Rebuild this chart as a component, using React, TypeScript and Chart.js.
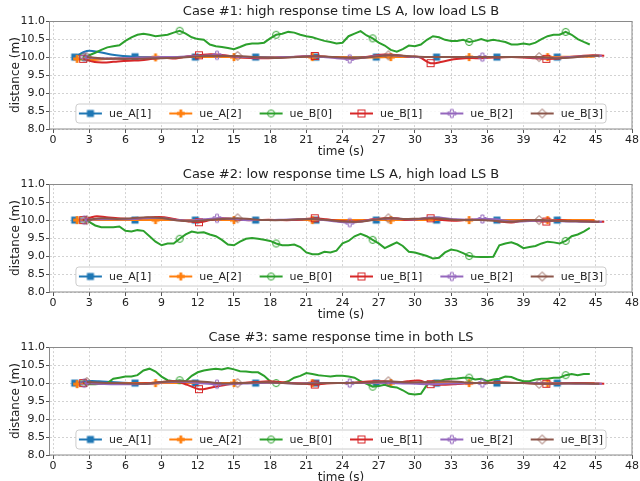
import React, { useEffect, useRef } from "react";
import { Chart, registerables } from "chart.js";

Chart.register(...registerables);

// ---------------- data ----------------
const caseTitles = [
  "Case #1: high response time LS A, low load LS B",
  "Case #2: low response time LS A, high load LS B",
  "Case #3: same response time in both LS",
];
const seriesLabels = ["ue_A[1]", "ue_A[2]", "ue_B[0]", "ue_B[1]", "ue_B[2]", "ue_B[3]"];
// sampling of each series (time of first sample, seconds between samples)
const seriesStart = [1.8, 2.0, 2.5, 2.5, 2.6, 2.8];
const seriesStep = [1, 1.3, 0.5, 0.96, 1.1, 1.25];
const markEvery = [5, 5, 16, 10, 10, 10];
const xTicks = [0, 3, 6, 9, 12, 15, 18, 21, 24, 27, 30, 33, 36, 39, 42, 45, 48];
const yTicks = [8.0, 8.5, 9.0, 9.5, 10.0, 10.5, 11.0];

// ----- Case 1 -----
const c1_ueA1 = [
  10.0, 10.17, 10.14, 10.07, 10.03, 10.01, 10.0, 10.0, 10.0, 10.0,
  10.0, 10.0, 10.0, 10.0, 10.0, 10.0, 10.0, 10.0, 10.0, 10.0,
  10.0, 10.0, 10.0, 10.0, 10.0, 10.0, 10.0, 10.0, 10.0, 10.0,
  10.0, 10.0, 10.0, 10.0, 10.0, 10.0, 10.0, 10.0, 10.0, 10.0,
  10.0,
];
const c1_ueA2 = [
  9.95, 9.92, 9.95, 9.97, 9.98, 9.99, 9.99, 10.0, 10.0, 10.0,
  10.0, 9.99, 9.99, 10.0, 10.0, 10.0, 10.0, 10.0, 9.99, 9.99,
  10.0, 10.0, 10.0, 10.0, 10.0, 10.0, 10.0, 10.0, 10.0, 10.0,
  10.0, 10.01, 10.01, 10.01,
];
const c1_ueB0 = [
  10.0, 10.05, 10.12, 10.2, 10.27, 10.3, 10.33, 10.45, 10.55, 10.62,
  10.65, 10.62, 10.58, 10.6, 10.62, 10.68, 10.73, 10.65, 10.55, 10.5,
  10.48, 10.35, 10.3, 10.28, 10.25, 10.22, 10.28, 10.35, 10.38, 10.38,
  10.4, 10.52, 10.62, 10.65, 10.7, 10.68, 10.62, 10.58, 10.55, 10.5,
  10.45, 10.42, 10.38, 10.4, 10.58, 10.65, 10.72, 10.6, 10.52, 10.4,
  10.32, 10.2, 10.15, 10.22, 10.32, 10.3, 10.35, 10.48, 10.58, 10.55,
  10.48, 10.45, 10.45, 10.48, 10.42, 10.45, 10.5, 10.45, 10.48, 10.45,
  10.42, 10.35, 10.35, 10.38, 10.35, 10.4, 10.5, 10.58, 10.62, 10.62,
  10.7, 10.62, 10.5, 10.42, 10.35,
];
const c1_ueB1 = [
  9.95, 9.86, 9.85, 9.88, 9.9, 9.91, 9.95, 9.98, 9.96, 10.02,
  10.05, 10.08, 10.06, 10.01, 9.98, 9.97, 9.97, 9.98, 10.0, 10.02,
  10.03, 10.01, 9.98, 9.96, 9.98, 10.03, 10.07, 10.06, 10.01, 10.0,
  9.83, 9.87, 9.94, 9.97, 9.97, 9.98, 9.99, 10.0, 9.99, 9.97,
  9.95, 9.96, 10.0, 10.03, 10.05, 10.04,
];
const c1_ueB2 = [
  10.0, 9.97, 9.96, 9.97, 9.98, 9.99, 10.0, 10.0, 10.02, 10.04,
  10.05, 10.02, 10.0, 9.99, 9.99, 10.0, 10.01, 10.02, 10.0, 9.97,
  9.95, 9.98, 10.03, 10.05, 10.03, 10.0, 10.0, 10.0, 10.0, 10.0,
  10.0, 10.0, 10.0, 10.0, 9.99, 9.98, 9.99, 10.01, 10.03, 10.04,
];
const c1_ueB3 = [
  10.0, 9.96, 9.95, 9.95, 9.96, 9.97, 9.98, 10.01, 10.03, 10.03,
  10.03, 10.0, 9.98, 9.98, 10.0, 10.02, 10.01, 9.99, 9.97, 10.01,
  10.05, 10.04, 10.01, 10.0, 10.0, 10.0, 10.0, 10.0, 10.0, 10.0,
  10.0, 9.97, 9.98, 10.02, 10.04,
];

// ----- Case 2 -----
const c2_ueA1 = [
  10.0, 10.0, 10.0, 10.0, 10.0, 10.0, 10.0, 10.0, 10.0, 10.0,
  10.0, 10.0, 10.0, 10.0, 10.0, 10.0, 10.0, 10.0, 10.0, 10.0,
  10.0, 10.0, 10.0, 10.0, 10.0, 10.0, 10.0, 10.0, 10.0, 10.0,
  10.0, 10.0, 10.0, 10.0, 10.0, 10.0, 10.0, 10.0, 10.0, 10.0,
  10.0,
];
const c2_ueA2 = [
  10.0, 10.0, 10.0, 10.0, 10.0, 10.0, 10.0, 10.0, 10.0, 10.0,
  10.0, 10.0, 10.0, 10.0, 10.0, 10.0, 10.0, 10.0, 10.0, 10.0,
  10.0, 10.0, 10.0, 10.0, 10.0, 10.0, 10.0, 10.0, 10.0, 10.0,
  10.0, 10.0, 10.0, 10.0,
];
const c2_ueB0 = [
  10.0, 9.95, 9.85, 9.8, 9.8, 9.8, 9.82, 9.7, 9.68, 9.72,
  9.7, 9.55, 9.4, 9.3, 9.35, 9.35, 9.48, 9.6, 9.68, 9.65,
  9.66, 9.6, 9.55, 9.45, 9.32, 9.3, 9.4, 9.48, 9.5, 9.48,
  9.45, 9.42, 9.35, 9.3, 9.3, 9.32, 9.25, 9.1, 9.05, 9.05,
  9.12, 9.1, 9.15, 9.35, 9.42, 9.55, 9.62, 9.55, 9.45, 9.35,
  9.22, 9.3, 9.38, 9.28, 9.12, 9.1, 9.05, 9.0, 8.93, 8.95,
  9.1, 9.18, 9.15, 9.08, 9.0, 8.98, 8.97, 8.97, 8.98, 9.3,
  9.35, 9.38, 9.32, 9.22, 9.25, 9.28, 9.35, 9.4, 9.38, 9.35,
  9.42, 9.55, 9.6, 9.68, 9.78,
];
const c2_ueB1 = [
  10.0, 10.1, 10.08, 10.05, 10.03, 10.05, 10.08, 10.08, 10.02, 9.97,
  9.94, 10.0, 10.05, 10.03, 10.0, 10.0, 10.01, 10.0, 10.0, 10.02,
  10.05, 10.02, 9.98, 9.96, 9.97, 10.02, 10.05, 10.05, 10.0, 10.03,
  10.05, 10.0, 9.98, 10.0, 10.01, 10.02, 9.96, 9.93, 9.99, 9.98,
  9.96, 10.0, 9.98, 9.97, 9.96, 9.95,
];
const c2_ueB2 = [
  10.0, 10.02, 10.03, 10.02, 10.04, 10.06, 10.05, 10.0, 9.99, 10.02,
  10.05, 10.04, 10.0, 10.0, 10.0, 10.01, 10.02, 10.03, 10.0, 9.96,
  9.93, 9.97, 10.02, 10.04, 10.03, 10.02, 10.07, 10.06, 10.02, 10.01,
  10.03, 10.02, 9.97, 9.96, 9.98, 9.99, 9.97, 9.96, 9.95, 9.95,
];
const c2_ueB3 = [
  10.0, 10.05, 10.03, 10.05, 10.08, 10.06, 9.99, 9.97, 10.0, 10.03,
  10.05, 10.02, 10.0, 10.0, 10.02, 10.03, 10.0, 9.96, 9.95, 10.0,
  10.05, 10.03, 10.04, 10.05, 10.02, 10.0, 10.0, 9.98, 9.95, 9.98,
  10.0, 9.98, 9.97, 9.96, 9.95,
];

// ----- Case 3 -----
const c3_ueA1 = [
  10.0, 10.05, 10.05, 10.03, 10.01, 10.0, 10.0, 10.0, 10.0, 10.0,
  10.0, 10.0, 10.0, 10.0, 10.0, 10.0, 10.0, 10.0, 10.0, 10.0,
  10.0, 10.0, 10.0, 10.0, 10.0, 10.0, 10.0, 10.0, 10.0, 10.0,
  10.0, 10.0, 10.0, 10.0, 10.0, 10.0, 10.0, 10.0, 10.0, 10.0,
  10.0,
];
const c3_ueA2 = [
  9.97, 10.0, 10.0, 10.0, 10.0, 10.0, 10.0, 10.0, 10.0, 10.0,
  10.0, 10.0, 10.0, 10.0, 10.0, 10.0, 10.0, 10.0, 10.0, 10.0,
  10.0, 10.0, 10.0, 10.0, 10.0, 10.0, 10.0, 10.0, 10.0, 10.0,
  10.0, 10.0, 10.0, 10.0,
];
const c3_ueB0 = [
  10.0, 9.97, 9.97, 9.98, 10.0, 10.12, 10.15, 10.18, 10.18, 10.22,
  10.35, 10.4, 10.32, 10.18, 10.08, 10.05, 10.08, 10.05, 10.2, 10.3,
  10.35, 10.38, 10.4, 10.38, 10.42, 10.38, 10.33, 10.32, 10.3, 10.3,
  10.2, 10.05, 10.0, 10.0, 10.05, 10.15, 10.2, 10.28, 10.25, 10.22,
  10.2, 10.18, 10.2, 10.2, 10.18, 10.15, 10.05, 9.98, 9.9, 9.92,
  9.95, 9.9, 9.88, 9.8, 9.7, 9.68, 9.7, 9.95, 10.05, 10.05,
  10.1, 10.12, 10.13, 10.15, 10.15, 10.1, 10.12, 10.05, 10.1, 10.12,
  10.18, 10.17, 10.1, 10.05, 10.05, 10.1, 10.12, 10.12, 10.15, 10.15,
  10.22, 10.25, 10.22, 10.25, 10.25,
];
const c3_ueB1 = [
  10.0, 9.99, 9.98, 9.98, 9.98, 9.99, 10.0, 10.04, 10.05, 9.95,
  9.83, 9.87, 9.93, 9.99, 10.01, 10.03, 10.05, 10.03, 10.0, 9.98,
  9.96, 9.99, 10.0, 10.0, 10.03, 10.05, 10.05, 10.01, 10.05, 10.07,
  9.97, 9.95, 9.97, 9.99, 10.0, 10.01, 10.02, 10.01, 10.0, 9.99,
  9.98, 9.99, 10.0, 10.0, 9.99, 9.98,
];
const c3_ueB2 = [
  10.0, 9.98, 9.97, 9.97, 9.97, 9.98, 10.02, 10.04, 10.02, 9.99,
  9.97, 9.97, 9.99, 10.0, 10.01, 10.0, 9.99, 10.0, 10.0, 10.0,
  10.0, 10.0, 10.01, 10.0, 9.99, 9.98, 9.97, 9.98, 9.99, 10.0,
  10.0, 10.0, 10.0, 10.0, 10.0, 9.99, 9.99, 9.98, 9.98, 9.98,
];
const c3_ueB3 = [
  10.03, 10.01, 10.0, 9.99, 9.98, 10.03, 10.05, 10.05, 10.03, 9.99,
  10.0, 10.01, 10.02, 10.0, 9.98, 9.99, 10.0, 10.0, 10.01, 10.02,
  10.05, 10.02, 10.02, 10.04, 10.05, 10.02, 10.0, 10.0, 10.0, 10.0,
  9.98, 9.98, 9.99, 9.99, 9.98,
];

const caseSeries = [
  [c1_ueA1, c1_ueA2, c1_ueB0, c1_ueB1, c1_ueB2, c1_ueB3],
  [c2_ueA1, c2_ueA2, c2_ueB0, c2_ueB1, c2_ueB2, c2_ueB3],
  [c3_ueA1, c3_ueA2, c3_ueB0, c3_ueB1, c3_ueB2, c3_ueB3],
];

// ---------------- styles ----------------
const COLORS = ["#1f77b4", "#ff7f0e", "#2ca02c", "#d62728", "#9467bd", "#8c564b"];
const MARKER_KINDS = ["squareFilled", "plusFilled", "circle", "square", "plus", "diamond"];
const FONT = "'DejaVu Sans', 'Liberation Sans', sans-serif";
const TEXT = "#222222";
const FRAME = "#8a8a8a";
const GRID = "#d2d2d2";

function makeMarker(kind: string, color: string): HTMLCanvasElement {
  const c = document.createElement("canvas");
  c.width = 12;
  c.height = 12;
  const g = c.getContext("2d")!;
  g.translate(6, 6);
  g.strokeStyle = color;
  g.fillStyle = color;
  g.lineWidth = 1;
  const a = 1.4;
  const r = 4;
  const plusPath = () => {
    g.beginPath();
    g.moveTo(-a, -r);
    g.lineTo(a, -r);
    g.lineTo(a, -a);
    g.lineTo(r, -a);
    g.lineTo(r, a);
    g.lineTo(a, a);
    g.lineTo(a, r);
    g.lineTo(-a, r);
    g.lineTo(-a, a);
    g.lineTo(-r, a);
    g.lineTo(-r, -a);
    g.lineTo(-a, -a);
    g.closePath();
  };
  if (kind === "squareFilled") {
    g.fillRect(-3.5, -3.5, 7, 7);
  } else if (kind === "plusFilled") {
    plusPath();
    g.fill();
  } else if (kind === "circle") {
    g.beginPath();
    g.arc(0, 0, 3.5, 0, Math.PI * 2);
    g.stroke();
  } else if (kind === "square") {
    g.strokeRect(-3.5, -3.5, 7, 7);
  } else if (kind === "plus") {
    plusPath();
    g.stroke();
  } else if (kind === "diamond") {
    g.beginPath();
    g.moveTo(0, -4.5);
    g.lineTo(4.5, 0);
    g.lineTo(0, 4.5);
    g.lineTo(-4.5, 0);
    g.closePath();
    g.stroke();
  }
  return c;
}

const framePlugin = {
  id: "axesFrame",
  afterDatasetsDraw(chart: any) {
    const { ctx, chartArea: a } = chart;
    ctx.save();
    ctx.strokeStyle = FRAME;
    ctx.lineWidth = 1;
    ctx.strokeRect(Math.round(a.left) - 0.5, Math.round(a.top) + 0.5, Math.round(a.right - a.left) + 0.5, Math.round(a.bottom - a.top) - 0.5);
    ctx.restore();
  },
};

const innerLegendPlugin = {
  id: "innerLegend",
  afterDatasetsDraw(chart: any) {
    const { ctx, chartArea: a } = chart;
    const datasets = chart.data.datasets;
    ctx.save();
    ctx.font = `11px ${FONT}`;
    const handle = 23;
    const textGap = 7;
    const colGap = 18;
    const padX = 3;
    const widths = datasets.map((d: any) => ctx.measureText(d.label).width);
    const total =
      widths.reduce((s: number, w: number) => s + handle + textGap + w, 0) +
      colGap * (datasets.length - 1) +
      2 * padX;
    const h = 19;
    const x0 = (a.left + a.right) / 2 - total / 2;
    const y0 = a.bottom - 6 - h;
    ctx.beginPath();
    if (ctx.roundRect) ctx.roundRect(x0, y0, total, h, 3);
    else ctx.rect(x0, y0, total, h);
    ctx.fillStyle = "rgba(255,255,255,0.85)";
    ctx.fill();
    ctx.strokeStyle = "#cccccc";
    ctx.lineWidth = 1;
    ctx.stroke();
    let x = x0 + padX;
    const cy = y0 + h / 2;
    datasets.forEach((d: any, i: number) => {
      ctx.strokeStyle = d.borderColor;
      ctx.lineWidth = 2;
      ctx.beginPath();
      ctx.moveTo(x, cy);
      ctx.lineTo(x + handle, cy);
      ctx.stroke();
      const img = d.pointStyle as HTMLCanvasElement;
      ctx.drawImage(img, x + handle / 2 - img.width / 2, cy - img.height / 2);
      ctx.fillStyle = TEXT;
      ctx.textBaseline = "middle";
      ctx.textAlign = "left";
      ctx.fillText(d.label, x + handle + textGap, cy + 0.5);
      x += handle + textGap + widths[i] + colGap;
    });
    ctx.restore();
  },
};

function CaseChart({ idx }: { idx: number }) {
  const ref = useRef<HTMLCanvasElement | null>(null);
  useEffect(() => {
    if (!ref.current) return;
    const markers = COLORS.map((c, k) => makeMarker(MARKER_KINDS[k], c));
    const datasets = caseSeries[idx].map((vals, k) => ({
      label: seriesLabels[k],
      data: vals.map((y, i) => ({ x: seriesStart[k] + i * seriesStep[k], y })),
      borderColor: COLORS[k],
      backgroundColor: COLORS[k],
      borderWidth: 2,
      pointStyle: markers[k],
      pointRadius: vals.map((_, i) => (i % markEvery[k] === 0 ? 4 : 0)),
      tension: k === 2 ? 0 : 0.35,
      order: 5 - k,
    }));
    const tickFont = { family: FONT, size: 11 };
    const titleFont = { family: FONT, size: 12 };
    const chart = new Chart(ref.current, {
      type: "line",
      data: { datasets },
      options: {
        responsive: false,
        animation: false,
        events: [],
        layout: { padding: { left: 0, right: 7, top: 0, bottom: 0 } },
        plugins: {
          legend: { display: false },
          tooltip: { enabled: false },
          title: {
            display: true,
            text: caseTitles[idx],
            fullSize: false,
            color: TEXT,
            font: { family: FONT, size: 13, weight: "normal" },
            padding: { top: 4, bottom: 1.5 },
          },
        },
        scales: {
          x: {
            type: "linear",
            min: -0.25,
            max: 48,
            afterBuildTicks: (s: any) => {
              s.ticks = xTicks.map((v) => ({ value: v }));
            },
            afterFit: (s: any) => {
              s.height = 34;
            },
            ticks: {
              autoSkip: false,
              maxRotation: 0,
              color: TEXT,
              font: tickFont,
              padding: 1,
              callback: (v: any) => String(v),
            },
            grid: {
              color: GRID,
              lineWidth: 1,
              drawTicks: true,
              tickLength: 4,
              tickColor: "#555555",
              tickWidth: 1,
              tickBorderDash: [],
            },
            border: { display: false, dash: [2, 2] },
            title: {
              display: true,
              text: "time (s)",
              color: TEXT,
              font: titleFont,
              padding: { top: 0, bottom: 4 },
            },
          },
          y: {
            type: "linear",
            min: 8,
            max: 11,
            afterBuildTicks: (s: any) => {
              s.ticks = yTicks.map((v) => ({ value: v }));
            },
            afterFit: (s: any) => {
              s.width = 50;
            },
            ticks: {
              color: TEXT,
              font: tickFont,
              padding: 1,
              callback: (v: any) => Number(v).toFixed(1),
            },
            grid: {
              color: GRID,
              lineWidth: 1,
              drawTicks: true,
              tickLength: 4,
              tickColor: "#555555",
              tickWidth: 1,
              tickBorderDash: [],
            },
            border: { display: false, dash: [2, 2] },
            title: {
              display: true,
              text: "distance (m)",
              color: TEXT,
              font: titleFont,
              padding: { top: 9, bottom: 0 },
            },
          },
        },
      } as any,
      plugins: [framePlugin, innerLegendPlugin],
    });
    return () => chart.destroy();
  }, [idx]);
  return (
    <canvas
      ref={ref}
      width={640}
      height={163}
      style={{ position: "absolute", left: 0, top: idx * 163, width: 640, height: 163 }}
    />
  );
}

export default function App() {
  return (
    <div
      style={{
        position: "absolute",
        left: 0,
        top: 0,
        width: 640,
        height: 481,
        overflow: "hidden",
        background: "#ffffff",
      }}
    >
      <CaseChart idx={0} />
      <CaseChart idx={1} />
      <CaseChart idx={2} />
    </div>
  );
}
